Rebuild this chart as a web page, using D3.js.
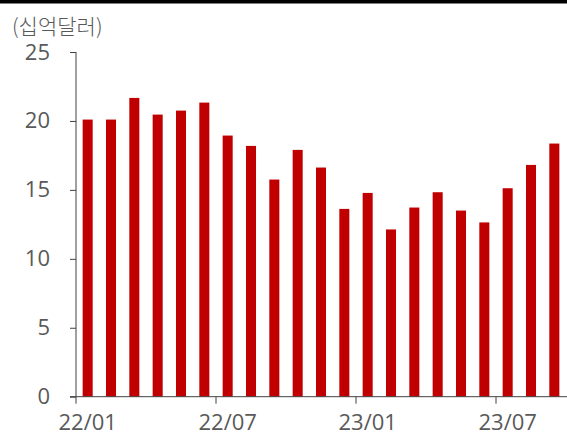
<!DOCTYPE html>
<html>
<head>
<meta charset="utf-8">
<script src="https://cdn.jsdelivr.net/npm/d3@7"></script>
<style>
  html, body { margin: 0; padding: 0; background: #fff; }
  svg { display: block; }
  text { font-family: "Open Sans", "Noto Sans CJK KR", sans-serif; fill: #595959; }
</style>
</head>
<body>
<svg id="chart" width="567" height="435"></svg>
<script>
// Monthly values, in billions of dollars
const months = ["22/01","22/02","22/03","22/04","22/05","22/06","22/07","22/08","22/09","22/10","22/11","22/12",
                "23/01","23/02","23/03","23/04","23/05","23/06","23/07","23/08","23/09"];
const values = [20.1, 20.1, 21.67, 20.46, 20.75, 21.33, 18.94, 18.19, 15.75, 17.9, 16.62, 13.62,
                14.78, 12.13, 13.72, 14.83, 13.5, 12.64, 15.12, 16.81, 18.36];
const xTickLabels = ["22/01", "22/07", "23/01", "23/07"];
const yTicks = [0, 5, 10, 15, 20, 25];
const unitLabel = "(십억달러)";

const svg = d3.select("#chart");
const W = 567, H = 435;
const plotLeft = 76, plotRight = 566, plotTop = 52, plotBottom = 396.7;

const x = d3.scaleBand().domain(months).range([plotLeft, plotRight]).paddingInner(0.57).paddingOuter(0.285);
const y = d3.scaleLinear().domain([0, 25]).range([plotBottom, plotTop]);

// top rule
svg.append("rect").attr("x", 0).attr("y", 0).attr("width", W).attr("height", 3.5).attr("fill", "#000");

// unit label
svg.append("text").attr("x", 12).attr("y", 33.5).attr("font-size", 21)
  .style("font-family", "'Noto Sans CJK KR', sans-serif").attr("font-weight", 300)
  .text(unitLabel);

// bars
svg.append("g").selectAll("rect").data(values).join("rect")
  .attr("x", (d, i) => x(months[i]))
  .attr("width", x.bandwidth())
  .attr("y", d => y(d))
  .attr("height", d => y(0) - y(d))
  .attr("fill", "#C00000");

// y axis
const yAxis = svg.append("g").attr("transform", `translate(${plotLeft},0)`)
  .call(d3.axisLeft(y).tickValues(yTicks).tickSize(6).tickPadding(20));
yAxis.select(".domain").attr("stroke", "#404040").attr("d", `M0,${plotTop}V${plotBottom}`);
yAxis.selectAll(".tick line").attr("stroke", "#404040");
yAxis.selectAll(".tick text").attr("font-size", 22).attr("fill", "#595959")
  .style("font-family", "'Open Sans', sans-serif");

// x axis
const gap = (x.step() - x.bandwidth()) / 2;
const xAxis = svg.append("g").attr("transform", `translate(0,${plotBottom})`);
xAxis.append("line").attr("x1", plotLeft - 6).attr("x2", W).attr("y1", 0).attr("y2", 0).attr("stroke", "#404040");
xAxis.selectAll(".xt").data(xTickLabels).join("line")
  .attr("class", "xt")
  .attr("x1", d => x(d) - gap)
  .attr("x2", d => x(d) - gap)
  .attr("y1", 0).attr("y2", 7).attr("stroke", "#404040");
xAxis.selectAll(".xl").data(xTickLabels).join("text")
  .attr("class", "xl")
  .attr("x", d => x(d) + x.bandwidth() / 2)
  .attr("y", 33)
  .attr("text-anchor", "middle")
  .attr("font-size", 22)
  .text(d => d);
</script>
</body>
</html>
